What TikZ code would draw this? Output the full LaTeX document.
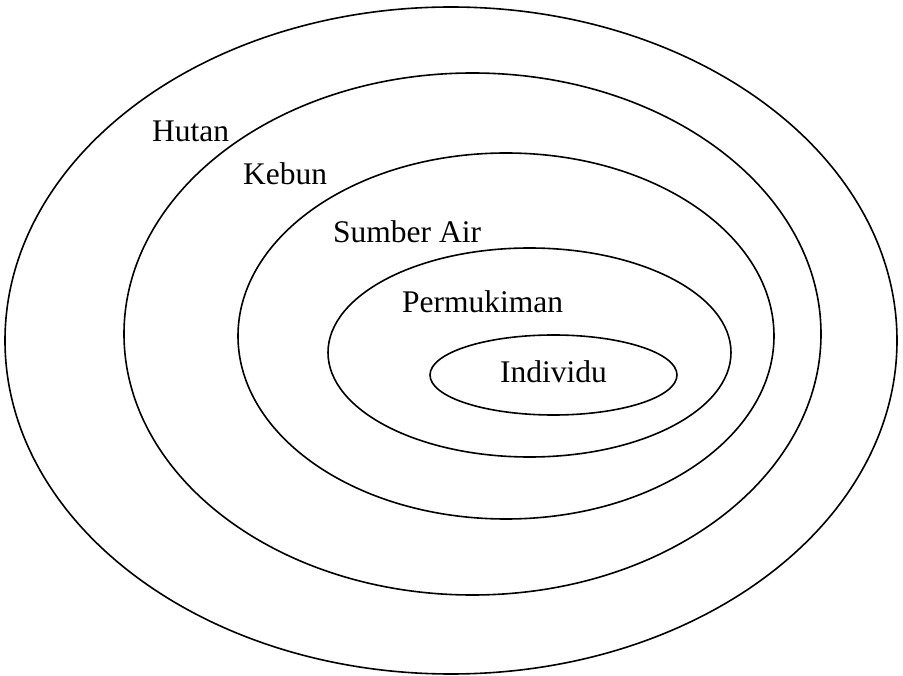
\documentclass[tikz,border=0pt]{standalone}
\usepackage{fontspec}
\setmainfont{Liberation Serif}
\usepackage{tikz}
\usetikzlibrary{positioning}

\begin{document}
\begin{tikzpicture}[x=1pt, y=-1pt,
    ring/.style={line width=1.6pt},
    zone/.style={anchor=base west, inner sep=0pt, font=\fontsize{31.5}{36}\selectfont}]
    \useasboundingbox (0, 0) rectangle (903, 676);
    
    % 环（外到内）
    \draw[ring] (451, 340.5) ellipse [x radius=446, y radius=333.5];
    \draw[ring] (472.5, 334) ellipse [x radius=348.5, y radius=261];
    \draw[ring] (506, 336) ellipse [x radius=268, y radius=183];
    \draw[ring] (529.5, 352.5) ellipse [x radius=201.5, y radius=104.5];
    \draw[ring] (553.5, 375) ellipse [x radius=123.5, y radius=40];
    
    % 标签
    \node[zone] (hutan) at (152, 142) {Hutan};
    \node[zone] (kebun) at (243, 185) {Kebun};
    \node[zone] (sumber) at (333, 243) {Sumber Air};
    \node[zone] (permukiman) at (402, 313) {Permukiman};
    \node[zone] (individu) at (500, 383) {Individu};
\end{tikzpicture}
\end{document}
